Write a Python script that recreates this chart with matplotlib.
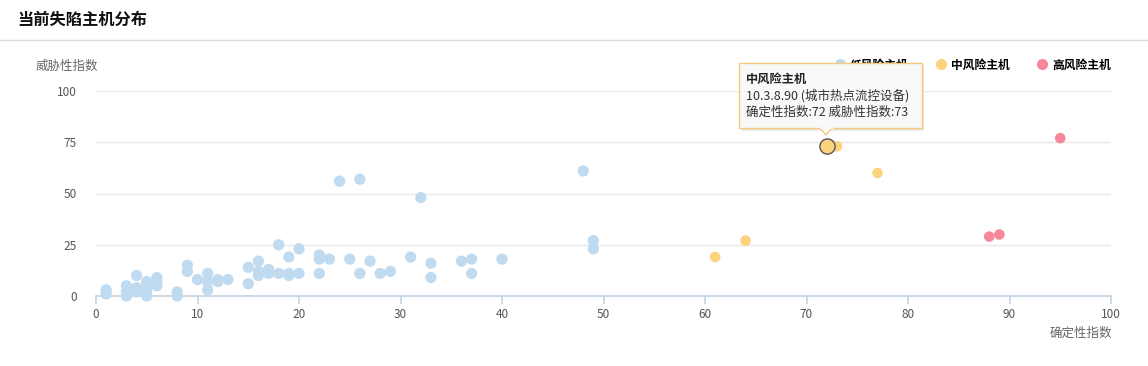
import matplotlib
matplotlib.use("Agg")
import matplotlib.pyplot as plt
from matplotlib.patches import Rectangle, Polygon
from matplotlib.lines import Line2D

plt.rcParams['font.family'] = ['Noto Sans CJK SC', 'DejaVu Sans']

# 低风险主机 (确定性指数, 威胁性指数)
low_x = [1, 1, 3, 3, 3, 4, 4, 4, 5, 5, 5, 5, 6, 6, 6, 8, 8, 9, 9, 10,
         11, 11, 11, 12, 12, 13, 15, 15, 16, 16, 16, 17, 17, 18, 18,
         19, 19, 19, 20, 20, 22, 22, 22, 23, 24, 25, 26, 26, 27, 28, 29,
         31, 32, 33, 33, 36, 37, 37, 40, 48, 49, 49]
low_y = [1, 3, 5, 2, 0, 10, 4, 2, 7, 5, 2, 0, 9, 7, 5, 2, 0, 15, 12, 8,
         11, 7, 3, 8, 7, 8, 14, 6, 17, 12, 10, 13, 11, 25, 11,
         19, 11, 10, 23, 11, 20, 18, 11, 18, 56, 18, 57, 11, 17, 11, 12,
         19, 48, 16, 9, 17, 18, 11, 18, 61, 27, 23]

mid_x = [61, 64, 72, 73, 77]
mid_y = [19, 27, 73, 73, 60]

high_x = [88, 89, 95]
high_y = [29, 30, 77]

series_names = ['低风险主机', '中风险主机', '高风险主机']
colors = ['#c0daf0', '#fdd27f', '#f7889b']

W, H = 1148, 366
fig = plt.figure(figsize=(W / 100, H / 100), dpi=100)


def fx(px):
    return px / W


def fy(py):
    return 1 - py / H


ax = fig.add_axes([fx(96), fy(296), fx(1111) - fx(96), fy(91) - fy(296)])
ax.set_xlim(0, 100)
ax.set_ylim(0, 100)
ax.set_xticks(range(0, 101, 10))
ax.set_yticks([0, 25, 50, 75, 100])
ax.grid(axis='y', color='#e8e8e8', linewidth=1)
ax.set_axisbelow(True)
for side in ['top', 'right', 'left']:
    ax.spines[side].set_visible(False)
ax.spines['bottom'].set_color('#c3d3e3')
ax.spines['bottom'].set_linewidth(1.2)
ax.tick_params(axis='x', colors='#c3d3e3', length=6, width=1.2, labelcolor='#555555',
               labelsize=8.5, pad=3)
ax.tick_params(axis='y', length=0, labelcolor='#555555', labelsize=8.5, pad=14)

ax.scatter(low_x, low_y, s=66, color=colors[0], edgecolors='none', clip_on=False, zorder=3)
ax.scatter(mid_x, mid_y, s=58, color=colors[1], edgecolors='none', clip_on=False, zorder=3)
ax.scatter(high_x, high_y, s=58, color=colors[2], edgecolors='none', clip_on=False, zorder=3)
# 高亮的悬停点
ax.scatter([mid_x[2]], [mid_y[2]], s=120, color=colors[1], edgecolors='#555555',
           linewidths=1, clip_on=False, zorder=4)

fig.text(fx(36), fy(66), '威胁性指数', fontsize=9, color='#666666', va='center', ha='left')
fig.text(fx(1112), fy(333), '确定性指数', fontsize=9, color='#666666', va='center', ha='right')

# 标题和分隔线
fig.text(fx(17), fy(20), '当前失陷主机分布', fontsize=11.7, fontweight='bold', color='#111111',
         va='center', ha='left')
fig.add_artist(Line2D([0, 1], [fy(40), fy(40)], color='#dcdcdc', linewidth=1))

# 图例
handles = [Line2D([], [], marker='o', linestyle='', markersize=7, color=c) for c in colors]
fig.legend(handles, series_names, loc='center right', bbox_to_anchor=(fx(1122), fy(65)),
           ncol=3, frameon=False, prop={'weight': 'bold', 'size': 8.5},
           handletextpad=0.4, columnspacing=2.2, handlelength=1.0)

# 提示框
fig.add_artist(Rectangle((fx(741), fy(131)), fx(922) - fx(739), fy(63) - fy(128),
                         facecolor='#dddddd', edgecolor='none', alpha=0.6, zorder=9))
fig.add_artist(Rectangle((fx(739), fy(128)), fx(922) - fx(739), fy(63) - fy(128),
                         facecolor='#f9f9f9', edgecolor='#f5c97a', linewidth=1, zorder=10))
fig.add_artist(Polygon([(fx(820), fy(128)), (fx(832), fy(128)), (fx(826), fy(135))],
                       closed=True, facecolor='#f9f9f9', edgecolor='#f5c97a',
                       linewidth=1, zorder=10))
fig.add_artist(Line2D([fx(820.5), fx(831.5)], [fy(128), fy(128)], color='#f9f9f9',
                      linewidth=1.5, zorder=11))
fig.text(fx(746), fy(79), '中风险主机', fontsize=8.8, fontweight='bold', color='#222222',
         va='center', zorder=12)
fig.text(fx(746), fy(96), '10.3.8.90 (城市热点流控设备)', fontsize=9, color='#333333',
         va='center', zorder=12)
fig.text(fx(746), fy(112), '确定性指数:72 威胁性指数:73', fontsize=9, color='#333333',
         va='center', zorder=12)

fig.savefig('out.png', dpi=100)
